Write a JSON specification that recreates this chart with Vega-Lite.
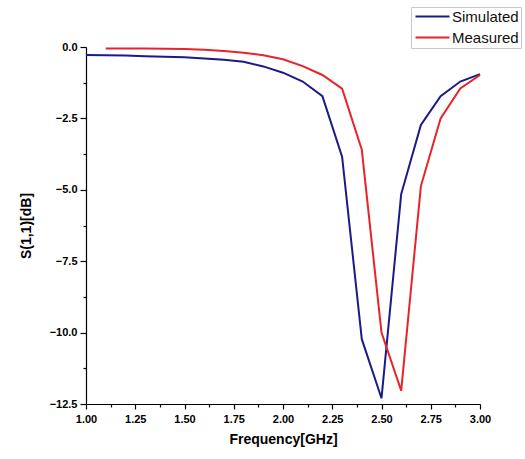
{
  "$schema": "https://vega.github.io/schema/vega-lite/v6.json",
  "width": 394,
  "height": 357,
  "autosize": {"type": "none"},
  "padding": {"left": 86, "top": 47, "right": 45, "bottom": 55},
  "background": "white",
  "config": {
    "view": {"stroke": null},
    "font": "Liberation Sans",
    "axis": {"domainColor": "#000", "tickColor": "#000", "labelColor": "#000", "titleColor": "#000", "grid": false, "domainWidth": 1.2, "tickWidth": 1.2}
  },
  "data": {
    "values": [
      {"f": 1.0, "s": -0.28, "series": "Simulated"},
      {"f": 1.1, "s": -0.29, "series": "Simulated"},
      {"f": 1.2, "s": -0.30, "series": "Simulated"},
      {"f": 1.3, "s": -0.32, "series": "Simulated"},
      {"f": 1.4, "s": -0.34, "series": "Simulated"},
      {"f": 1.5, "s": -0.36, "series": "Simulated"},
      {"f": 1.6, "s": -0.40, "series": "Simulated"},
      {"f": 1.7, "s": -0.45, "series": "Simulated"},
      {"f": 1.8, "s": -0.52, "series": "Simulated"},
      {"f": 1.9, "s": -0.68, "series": "Simulated"},
      {"f": 2.0, "s": -0.90, "series": "Simulated"},
      {"f": 2.1, "s": -1.21, "series": "Simulated"},
      {"f": 2.2, "s": -1.72, "series": "Simulated"},
      {"f": 2.3, "s": -3.84, "series": "Simulated"},
      {"f": 2.4, "s": -10.23, "series": "Simulated"},
      {"f": 2.5, "s": -12.30, "series": "Simulated"},
      {"f": 2.6, "s": -5.15, "series": "Simulated"},
      {"f": 2.7, "s": -2.73, "series": "Simulated"},
      {"f": 2.8, "s": -1.72, "series": "Simulated"},
      {"f": 2.9, "s": -1.21, "series": "Simulated"},
      {"f": 3.0, "s": -0.95, "series": "Simulated"},
      {"f": 1.1, "s": -0.05, "series": "Measured"},
      {"f": 1.2, "s": -0.05, "series": "Measured"},
      {"f": 1.3, "s": -0.05, "series": "Measured"},
      {"f": 1.4, "s": -0.06, "series": "Measured"},
      {"f": 1.5, "s": -0.07, "series": "Measured"},
      {"f": 1.6, "s": -0.10, "series": "Measured"},
      {"f": 1.7, "s": -0.14, "series": "Measured"},
      {"f": 1.8, "s": -0.20, "series": "Measured"},
      {"f": 1.9, "s": -0.29, "series": "Measured"},
      {"f": 2.0, "s": -0.43, "series": "Measured"},
      {"f": 2.1, "s": -0.67, "series": "Measured"},
      {"f": 2.2, "s": -0.98, "series": "Measured"},
      {"f": 2.3, "s": -1.46, "series": "Measured"},
      {"f": 2.4, "s": -3.60, "series": "Measured"},
      {"f": 2.5, "s": -10.00, "series": "Measured"},
      {"f": 2.6, "s": -12.03, "series": "Measured"},
      {"f": 2.7, "s": -4.87, "series": "Measured"},
      {"f": 2.8, "s": -2.50, "series": "Measured"},
      {"f": 2.9, "s": -1.45, "series": "Measured"},
      {"f": 3.0, "s": -0.98, "series": "Measured"}
    ]
  },
  "resolve": {"axis": {"x": "independent", "y": "independent"}},
  "layer": [
    {
      "mark": {"type": "line", "strokeWidth": 2},
      "encoding": {
        "x": {
          "field": "f", "type": "quantitative",
          "scale": {"domain": [1, 3], "nice": false, "zero": false},
          "axis": {"orient": "bottom", "values": [1, 1.25, 1.5, 1.75, 2, 2.25, 2.5, 2.75, 3], "format": ".2f", "labelFontSize": 11, "labelFontWeight": "bold", "tickSize": 5, "labelPadding": 4, "labelFlush": false, "title": "Frequency[GHz]", "titleFontSize": 14, "titleFontWeight": "bold", "titlePadding": 8}
        },
        "y": {
          "field": "s", "type": "quantitative",
          "scale": {"domain": [-12.5, 0], "nice": false, "zero": false},
          "axis": {"orient": "left", "values": [-12.5, -10, -7.5, -5, -2.5, 0], "format": ".1f", "labelFontSize": 11, "labelFontWeight": "bold", "tickSize": 6, "labelPadding": 3, "labelFlush": false, "title": "S(1,1)[dB]", "titleFontSize": 14, "titleFontWeight": "bold", "titlePadding": 16}
        },
        "color": {
          "field": "series", "type": "nominal", "sort": ["Simulated", "Measured"],
          "scale": {"domain": ["Simulated", "Measured"], "range": ["#1b1a86", "#e8232b"]},
          "legend": {"title": null, "orient": "none", "legendX": 325, "legendY": -40, "symbolType": "M-1.25,0H7.25", "symbolSize": 64, "symbolStrokeWidth": 2, "labelFontSize": 15, "labelOffset": 24, "strokeColor": "#c8c8c8", "padding": 2, "rowPadding": 5, "labelColor": "#111"}
        }
      }
    },
    {
      "mark": {"type": "line", "strokeOpacity": 0},
      "encoding": {
        "x": {
          "field": "f", "type": "quantitative",
          "axis": {"orient": "bottom", "values": [1.125, 1.375, 1.625, 1.875, 2.125, 2.375, 2.625, 2.875], "labels": false, "domain": false, "tickSize": 3, "title": null}
        },
        "y": {
          "field": "s", "type": "quantitative",
          "axis": {"orient": "left", "values": [-11.25, -8.75, -6.25, -3.75, -1.25], "labels": false, "domain": false, "tickSize": 3, "title": null}
        },
        "detail": {"field": "series", "type": "nominal"}
      }
    }
  ]
}
